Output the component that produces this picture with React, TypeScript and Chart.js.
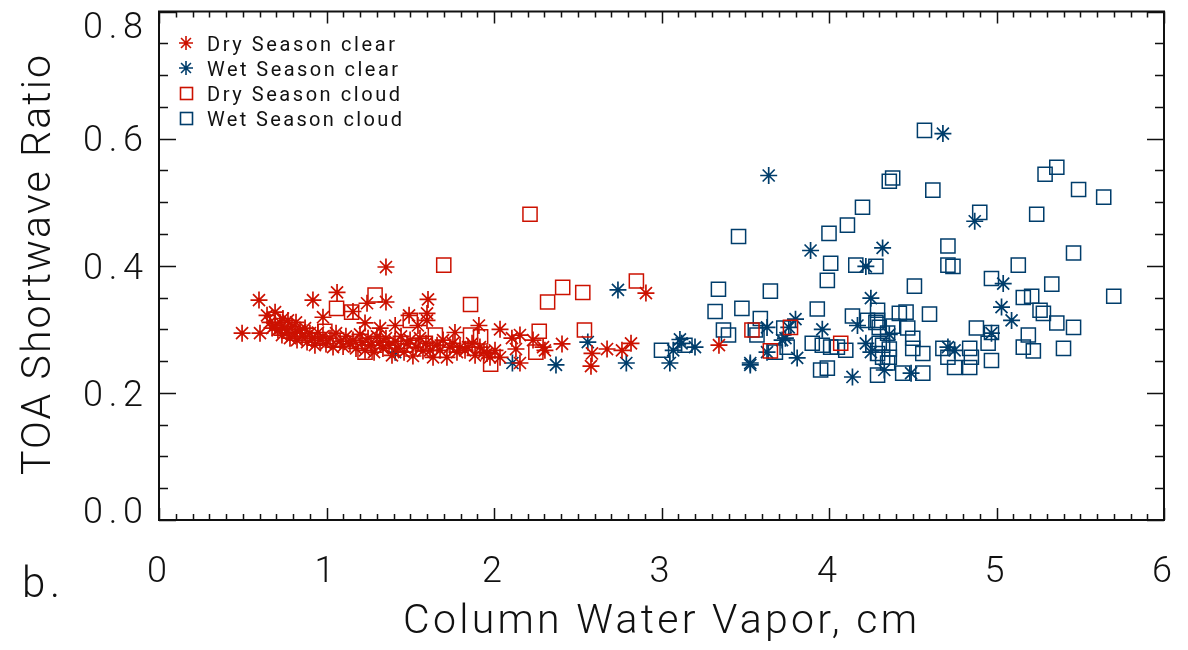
import { useEffect, useRef } from 'react';
import { Chart, registerables } from 'chart.js';

Chart.register(...registerables);

// Column water vapour (cm) vs TOA shortwave ratio, split by season and sky condition.
const dryClear: [number, number][] = [
  [0.496, 0.294], [0.603, 0.294], [0.597, 0.346], [0.645, 0.322], [0.693, 0.327],
  [0.919, 0.346], [1.063, 0.358], [0.979, 0.319], [1.158, 0.328], [1.242, 0.341],
  [1.355, 0.398], [1.355, 0.343], [1.23, 0.31], [1.606, 0.347], [1.493, 0.322],
  [1.6, 0.325], [1.6, 0.314], [1.546, 0.306], [1.767, 0.295], [1.91, 0.306],
  [2.036, 0.3], [2.155, 0.291], [2.107, 0.286], [2.233, 0.283], [2.131, 0.269],
  [2.155, 0.247], [2.293, 0.272], [2.304, 0.267], [2.406, 0.277], [2.585, 0.262],
  [2.579, 0.242], [2.675, 0.269], [2.764, 0.267], [2.818, 0.278], [2.907, 0.357],
  [3.343, 0.275], [1.41, 0.306], [1.32, 0.302],
  [0.663, 0.311], [0.675, 0.302], [0.693, 0.306], [0.71, 0.299], [0.722, 0.311],
  [0.734, 0.291], [0.752, 0.302], [0.764, 0.295], [0.782, 0.286], [0.794, 0.305],
  [0.812, 0.294], [0.824, 0.283], [0.842, 0.299], [0.854, 0.289], [0.872, 0.302],
  [0.884, 0.28], [0.901, 0.294], [0.913, 0.286], [0.931, 0.275], [0.949, 0.295],
  [0.961, 0.283], [0.979, 0.289], [0.997, 0.277], [1.021, 0.286], [1.039, 0.272],
  [1.057, 0.294], [1.081, 0.281], [1.099, 0.273], [1.116, 0.289], [1.14, 0.277],
  [1.158, 0.283], [1.176, 0.27], [1.2, 0.292], [1.212, 0.28], [1.23, 0.267],
  [1.248, 0.286], [1.266, 0.275], [1.284, 0.264], [1.301, 0.289], [1.319, 0.28],
  [1.337, 0.27], [1.355, 0.286], [1.373, 0.275], [1.391, 0.259], [1.409, 0.281],
  [1.427, 0.27], [1.445, 0.289], [1.463, 0.264], [1.481, 0.277], [1.499, 0.283],
  [1.516, 0.258], [1.534, 0.272], [1.558, 0.286], [1.576, 0.266], [1.594, 0.278],
  [1.618, 0.267], [1.636, 0.256], [1.66, 0.275], [1.678, 0.267], [1.696, 0.283],
  [1.719, 0.256], [1.737, 0.272], [1.755, 0.278], [1.779, 0.264], [1.797, 0.272],
  [1.827, 0.267], [1.845, 0.272], [1.869, 0.278], [1.887, 0.259], [1.916, 0.272],
  [1.94, 0.264], [1.958, 0.262], [1.976, 0.256], [2.006, 0.267], [2.036, 0.256],
  [0.74, 0.317], [0.77, 0.314], [0.818, 0.311],
];

const wetClear: [number, number][] = [
  [4.68, 0.608], [3.64, 0.542], [4.87, 0.47], [3.89, 0.424], [4.32, 0.428],
  [4.22, 0.399], [2.74, 0.362], [5.04, 0.372], [4.25, 0.349], [5.03, 0.335],
  [3.8, 0.316], [5.09, 0.314], [3.63, 0.303], [3.96, 0.3], [4.17, 0.306],
  [3.76, 0.303], [4.36, 0.292], [4.97, 0.294], [3.72, 0.283], [3.74, 0.286],
  [4.22, 0.278], [3.11, 0.284], [3.12, 0.278], [3.2, 0.272], [3.07, 0.267],
  [2.56, 0.28], [4.71, 0.272], [4.75, 0.267], [4.25, 0.264], [3.63, 0.264],
  [3.81, 0.255], [3.53, 0.244], [3.53, 0.247], [3.05, 0.247], [2.11, 0.247],
  [2.37, 0.244], [2.79, 0.247], [1.41, 0.264], [4.33, 0.236], [4.14, 0.225],
  [4.49, 0.231],
];

const dryCloud: [number, number][] = [
  [2.215, 0.481], [1.7, 0.401], [2.85, 0.376], [2.41, 0.366], [2.53, 0.358],
  [2.32, 0.343], [1.86, 0.339], [1.29, 0.354], [1.06, 0.333], [1.15, 0.327],
  [1.5, 0.314], [0.99, 0.297], [1.65, 0.291], [1.86, 0.291], [1.92, 0.288],
  [2.27, 0.297], [2.54, 0.299], [2.25, 0.264], [1.98, 0.245], [1.59, 0.278],
  [1.23, 0.264], [3.54, 0.299], [3.77, 0.303], [3.65, 0.266], [4.07, 0.278],
];

const wetCloud: [number, number][] = [
  [4.57, 0.613], [4.38, 0.538], [4.36, 0.533], [5.36, 0.555], [5.29, 0.544],
  [5.49, 0.52], [5.64, 0.508], [4.62, 0.519], [4.2, 0.492], [5.24, 0.481],
  [4.9, 0.484], [4.11, 0.464], [4.0, 0.451], [3.46, 0.446], [4.71, 0.431],
  [5.46, 0.42], [4.01, 0.404], [4.16, 0.401], [4.28, 0.399], [4.71, 0.401],
  [4.74, 0.399], [5.13, 0.401], [3.99, 0.377], [4.97, 0.38], [4.51, 0.368],
  [3.34, 0.363], [3.65, 0.36], [5.33, 0.371], [5.16, 0.35], [5.21, 0.352],
  [5.7, 0.352], [3.48, 0.333], [3.32, 0.328], [3.93, 0.332], [4.14, 0.321],
  [4.23, 0.314], [4.29, 0.314], [4.42, 0.325], [4.46, 0.327], [4.6, 0.324],
  [5.26, 0.33], [5.28, 0.325], [5.36, 0.31], [5.46, 0.303], [4.88, 0.302],
  [4.97, 0.295], [5.19, 0.291], [3.59, 0.317], [3.56, 0.299], [3.57, 0.291],
  [3.37, 0.299], [3.4, 0.291], [3.73, 0.302], [4.29, 0.33], [4.28, 0.311],
  [4.38, 0.305], [4.47, 0.302], [4.3, 0.303], [4.35, 0.294], [4.3, 0.278],
  [4.29, 0.262], [4.32, 0.256], [4.5, 0.286], [4.5, 0.27], [4.56, 0.262],
  [4.32, 0.275], [4.36, 0.269], [4.36, 0.256], [4.35, 0.247], [4.95, 0.278],
  [5.16, 0.272], [5.22, 0.266], [5.4, 0.27], [4.97, 0.251], [4.68, 0.27],
  [4.71, 0.256], [4.75, 0.24], [4.84, 0.27], [4.85, 0.256], [4.84, 0.24],
  [3.68, 0.264], [3.75, 0.272], [3.9, 0.278], [3.96, 0.275], [4.01, 0.272],
  [4.05, 0.272], [4.1, 0.267], [3.95, 0.236], [3.99, 0.239], [4.29, 0.228],
  [4.44, 0.231], [4.56, 0.231], [3.0, 0.267], [3.14, 0.275],
];

const legendLabels = ['Dry Season clear', 'Wet Season clear', 'Dry Season cloud', 'Wet Season cloud'];
const xTickLabels = ['0', '1', '2', '3', '4', '5', '6'];
const yTickLabels = ['0.0', '0.2', '0.4', '0.6', '0.8'];
const xTitle = 'Column Water Vapor, cm';
const yTitle = 'TOA Shortwave Ratio';
const panelTag = 'b.';

const RED = '#cc1100';
const BLUE = '#003d6b';
const INK = '#111111';
const FONT = "Roboto, 'DejaVu Sans', sans-serif";

// Draw text so that it spans a given width, spreading the glyphs evenly.
function spreadText(ctx: CanvasRenderingContext2D, text: string, left: number, y: number, width: number) {
  const c = ctx as any;
  c.letterSpacing = '0px';
  const w = ctx.measureText(text).width;
  const gap = text.length > 1 ? (width - w) / (text.length - 1) : 0;
  c.letterSpacing = `${gap}px`;
  ctx.textAlign = 'left';
  ctx.fillText(text, left, y);
  c.letterSpacing = '0px';
}

function drawAsterisk(ctx: CanvasRenderingContext2D, x: number, y: number, r: number) {
  const d = r * Math.SQRT1_2;
  ctx.beginPath();
  ctx.moveTo(x - r, y); ctx.lineTo(x + r, y);
  ctx.moveTo(x, y - r); ctx.lineTo(x, y + r);
  ctx.moveTo(x - d, y - d); ctx.lineTo(x + d, y + d);
  ctx.moveTo(x - d, y + d); ctx.lineTo(x + d, y - d);
  ctx.stroke();
}

const framePlugin = {
  id: 'frame',
  afterDraw(chart: any) {
    const { ctx, chartArea: a, scales } = chart;
    const xs = scales.x;
    const ys = scales.y;
    ctx.save();

    // axis box
    ctx.strokeStyle = INK;
    ctx.lineWidth = 2;
    ctx.strokeRect(a.left, a.top, a.right - a.left, a.bottom - a.top);

    // ticks
    ctx.lineWidth = 1.5;
    ctx.beginPath();
    for (let i = 0; i <= 60; i++) {
      const px = Math.round(xs.getPixelForValue(i / 10)) + 0.5;
      const len = i % 10 === 0 ? 12 : 6;
      ctx.moveTo(px, a.bottom); ctx.lineTo(px, a.bottom - len);
      ctx.moveTo(px, a.top); ctx.lineTo(px, a.top + len);
    }
    for (let i = 0; i <= 16; i++) {
      const py = Math.round(ys.getPixelForValue(i * 0.05)) + 0.5;
      const len = i % 4 === 0 ? 17 : 9;
      ctx.moveTo(a.left, py); ctx.lineTo(a.left + len, py);
      ctx.moveTo(a.right, py); ctx.lineTo(a.right - len, py);
    }
    ctx.stroke();

    ctx.fillStyle = INK;
    ctx.textBaseline = 'alphabetic';

    // y tick labels
    ctx.font = `300 36px ${FONT}`;
    const cap = 25.5;
    yTickLabels.forEach((lab, i) => {
      const py = ys.getPixelForValue(i * 0.2);
      let base = py + cap / 2;
      if (i === 0) base = a.bottom + 3;
      if (i === yTickLabels.length - 1) base = a.top + cap + 1;
      spreadText(ctx, lab, 83, base, 60);
    });

    // x tick labels
    ctx.textAlign = 'center';
    xTickLabels.forEach((lab, i) => {
      const px = xs.getPixelForValue(i);
      ctx.fillText(lab, px - 2, 582);
    });

    // axis titles
    ctx.font = `300 41px ${FONT}`;
    spreadText(ctx, xTitle, 403, 633, 514);
    ctx.save();
    ctx.translate(50, 265);
    ctx.rotate(-Math.PI / 2);
    spreadText(ctx, yTitle, -210, 0, 420);
    ctx.restore();

    ctx.font = `300 42px ${FONT}`;
    spreadText(ctx, panelTag, 22, 597, 38);

    // legend
    const rows = [43, 68, 93, 118];
    const colors = [RED, BLUE, RED, BLUE];
    const widths = [188, 191, 193, 195];
    ctx.font = `400 20px ${FONT}`;
    rows.forEach((ry, i) => {
      ctx.strokeStyle = colors[i];
      ctx.lineWidth = 1.6;
      if (i < 2) {
        drawAsterisk(ctx, 186, ry, 7);
      } else {
        ctx.strokeRect(180.5, ry - 5.5, 12, 12);
      }
      ctx.fillStyle = INK;
      spreadText(ctx, legendLabels[i], 207, ry + 7.5, widths[i]);
    });

    ctx.restore();
  },
};

export default function App() {
  const ref = useRef<HTMLCanvasElement>(null);

  useEffect(() => {
    document.body.style.margin = '0';
    const toPts = (arr: [number, number][]) => arr.map(([x, y]) => ({ x, y }));
    const chart = new Chart(ref.current!, {
      type: 'scatter',
      data: {
        datasets: [
          {
            label: legendLabels[0], data: toPts(dryClear), pointStyle: 'star',
            pointRadius: 8.5, borderColor: RED, backgroundColor: 'transparent', borderWidth: 1.7,
          },
          {
            label: legendLabels[2], data: toPts(dryCloud), pointStyle: 'rect',
            pointRadius: 10, borderColor: RED, backgroundColor: 'transparent', borderWidth: 1.5,
          },
          {
            label: legendLabels[1], data: toPts(wetClear), pointStyle: 'star',
            pointRadius: 8.5, borderColor: BLUE, backgroundColor: 'transparent', borderWidth: 1.7,
          },
          {
            label: legendLabels[3], data: toPts(wetCloud), pointStyle: 'rect',
            pointRadius: 10, borderColor: BLUE, backgroundColor: 'transparent', borderWidth: 1.5,
          },
        ],
      },
      options: {
        responsive: false,
        animation: false,
        events: [],
        layout: { padding: { left: 159, top: 11, right: 24, bottom: 130 } },
        plugins: { legend: { display: false }, tooltip: { enabled: false } },
        scales: {
          x: { type: 'linear', min: 0, max: 6, display: false },
          y: { type: 'linear', min: 0, max: 0.8, display: false },
        },
      },
      plugins: [framePlugin],
    });
    return () => chart.destroy();
  }, []);

  return (
    <canvas ref={ref} width={1188} height={650} style={{ display: 'block', width: 1188, height: 650 }} />
  );
}
